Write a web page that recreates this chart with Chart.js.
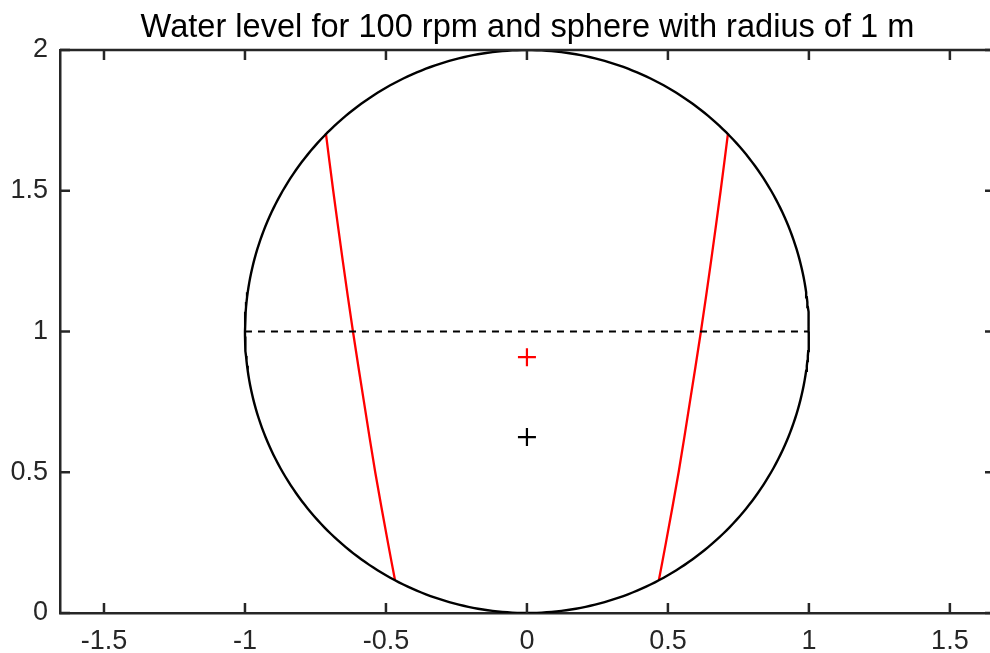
<!DOCTYPE html>
<html>
<head>
<meta charset="utf-8">
<title>Water level</title>
<script src="https://cdn.jsdelivr.net/npm/chart.js@4/dist/chart.umd.min.js"></script>
<style>
    html, body { margin: 0; padding: 0; background: #fff; overflow: hidden; }
    #wrap { width: 990px; height: 653px; overflow: hidden; }
</style>
</head>
<body>
<div id="wrap"><canvas id="chart" width="1055" height="653"></canvas></div>
<script>
// axis settings
const xTicks = [-1.5, -1, -0.5, 0, 0.5, 1, 1.5];
const yTicks = [0, 0.5, 1, 1.5, 2];
const xRange = [-1.656, 1.66];
const yRange = [0, 2];

// sphere outline (centre and radius, in m)
const sphereCenter = [0, 1];
const sphereRadius = 1;

const surfaceY     = [1.704, 1.5, 1.25, 1.0, 0.75, 0.5, 0.25, 0.117];
const surfaceLeftX = [-0.713, -0.687, -0.653, -0.617, -0.578, -0.538, -0.493, -0.468];
const surfaceRightX = [0.713, 0.687, 0.653, 0.617, 0.578, 0.538, 0.493, 0.468];

// horizontal mid line
const midLineX = [-1, 1];
const midLineY = [1, 1];

// markers
const redMark = [0, 0.909];
const blackMark = [0, 0.625];

const AXIS = '#262626';
const FONT = "'Liberation Sans', Arial, Helvetica, sans-serif";

const circlePts = [];
for (let a = 0; a <= 360; a += 1) {
    const r = a * Math.PI / 180;
    circlePts.push({ x: sphereCenter[0] + sphereRadius * Math.cos(r), y: sphereCenter[1] + sphereRadius * Math.sin(r) });
}

const toPts = (xs, ys) => xs.map((x, i) => ({ x: x, y: ys[i] }));

// box on top/right + inward ticks like matlab
const boxTicks = {
    id: 'boxTicks',
    afterLayout(chart) {
        // title centred over the plot box, not the whole canvas
        const t = chart.titleBlock;
        if (t) {
            t.left = chart.chartArea.left;
            t.right = chart.chartArea.right;
            t.width = t.right - t.left;
        }
    },
    afterDraw(chart) {
        const { ctx, chartArea: ca, scales } = chart;
        ctx.save();
        ctx.strokeStyle = AXIS;
        ctx.lineWidth = 2.5;
        ctx.beginPath();
        ctx.moveTo(ca.left, ca.top);
        ctx.lineTo(ca.right, ca.top);
        ctx.lineTo(ca.right, ca.bottom);
        ctx.stroke();
        const len = 10;
        ctx.beginPath();
        xTicks.forEach(v => {
            const px = scales.x.getPixelForValue(v);
            ctx.moveTo(px, ca.bottom); ctx.lineTo(px, ca.bottom - len);
            ctx.moveTo(px, ca.top); ctx.lineTo(px, ca.top + len);
        });
        yTicks.forEach(v => {
            const py = scales.y.getPixelForValue(v);
            ctx.moveTo(ca.left, py); ctx.lineTo(ca.left + len, py);
            ctx.moveTo(ca.right, py); ctx.lineTo(ca.right - len, py);
        });
        ctx.stroke();
        ctx.restore();
    }
};

const line = (data, color, extra) => Object.assign({
    type: 'scatter', data: data, showLine: true, borderColor: color,
    borderWidth: 2.3, pointRadius: 0, fill: false
}, extra || {});

new Chart(document.getElementById('chart'), {
    type: 'scatter',
    data: {
        datasets: [
            line(circlePts, '#000', { borderWidth: 2.4 }),
            line(toPts(midLineX, midLineY), '#000', { borderDash: [7, 6], borderWidth: 2.2 }),
            line(toPts(surfaceLeftX, surfaceY), '#ff0000', { tension: 0.3 }),
            line(toPts(surfaceRightX, surfaceY), '#ff0000', { tension: 0.3 }),
            { data: [{ x: redMark[0], y: redMark[1] }], pointStyle: 'cross', pointRadius: 9, borderColor: '#ff0000', borderWidth: 2.2 },
            { data: [{ x: blackMark[0], y: blackMark[1] }], pointStyle: 'cross', pointRadius: 9, borderColor: '#000', borderWidth: 2.2 }
        ]
    },
    options: {
        responsive: false,
        animation: false,
        layout: { padding: { right: 60, left: 0, top: 0, bottom: 0 } },
        plugins: {
            legend: { display: false },
            tooltip: { enabled: false },
            title: {
                display: true,
                text: 'Water level for 100 rpm and sphere with radius of 1 m',
                color: '#000',
                font: { family: FONT, size: 32.6, weight: 'normal', lineHeight: 1.2 },
                padding: { top: 8, bottom: 2.9 }
            }
        },
        scales: {
            x: {
                type: 'linear', min: xRange[0], max: xRange[1],
                grid: { display: false, drawTicks: false },
                border: { display: true, color: AXIS, width: 2.5 },
                afterFit: s => { s.height = 40; },
                afterBuildTicks: s => { s.ticks = xTicks.map(v => ({ value: v })); },
                ticks: { color: AXIS, padding: 12, maxRotation: 0, autoSkip: false,
                    font: { family: FONT, size: 27 }, callback: v => String(v) }
            },
            y: {
                type: 'linear', min: yRange[0], max: yRange[1],
                grid: { display: false, drawTicks: false },
                border: { display: true, color: AXIS, width: 2.5 },
                afterFit: s => { s.width = 60; },
                afterBuildTicks: s => { s.ticks = yTicks.map(v => ({ value: v })); },
                ticks: { color: AXIS, padding: 12, autoSkip: false,
                    font: { family: FONT, size: 27 }, callback: v => String(v) }
            }
        }
    },
    plugins: [boxTicks]
});
</script>
</body>
</html>
